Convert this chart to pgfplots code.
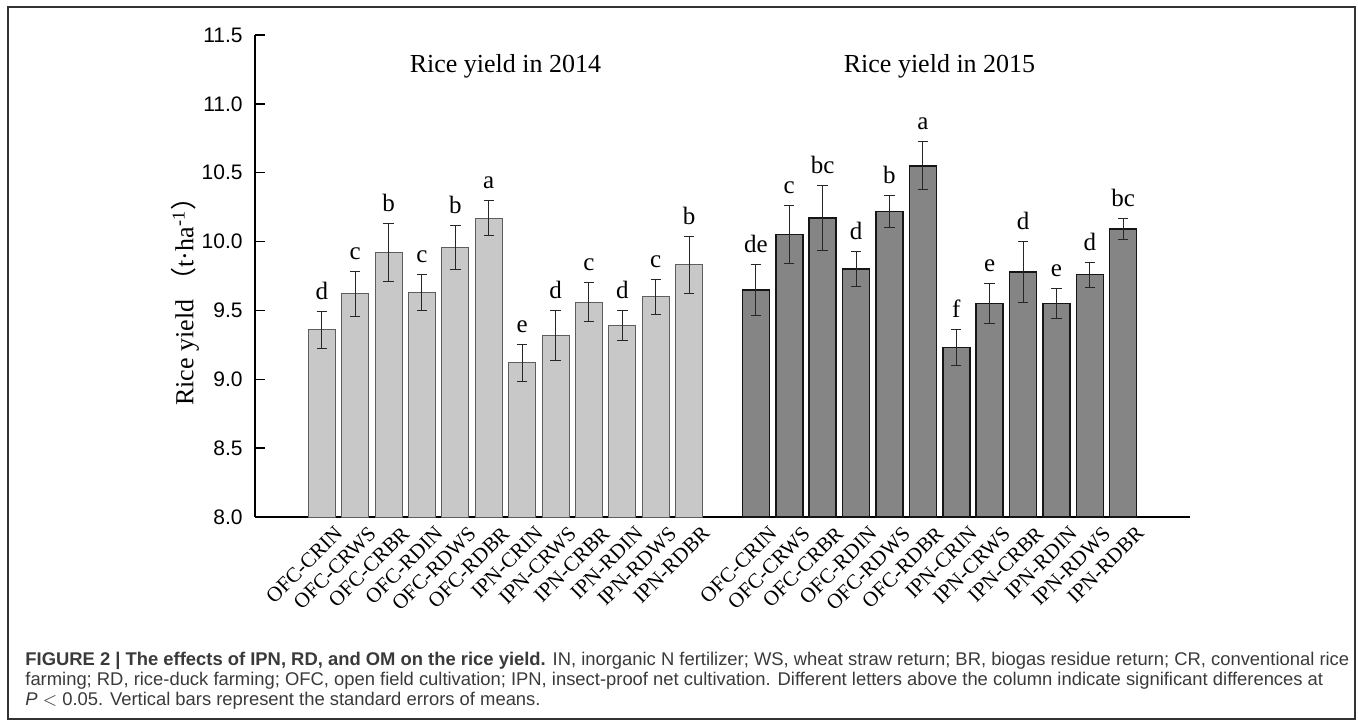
\documentclass[border=0pt]{standalone}
\usepackage{fontspec}
\setmainfont{Liberation Serif}
\setsansfont{Liberation Sans}
\newfontfamily\cjk{Noto Sans CJK SC}
\usepackage{pgfplots}
\usepackage{pgfplotstable}
\pgfplotsset{compat=1.18}

\definecolor{lightbar}{HTML}{C8C8C8}
\definecolor{lightedge}{HTML}{5E5E5E}
\definecolor{darkbar}{HTML}{858585}
\definecolor{darkedge}{HTML}{151515}
\definecolor{framecol}{HTML}{333333}
\definecolor{captext}{HTML}{3A3A3A}

% x  mean  standard error  letter
\pgfplotstableread{
x  y     se     lab
0  9.36  0.135  d
1  9.62  0.165  c
2  9.92  0.210  b
3  9.63  0.130  c
4  9.96  0.160  b
5  10.17 0.125  a
6  9.12  0.133  e
7  9.32  0.180  d
8  9.56  0.140  c
9  9.39  0.110  d
10 9.60  0.128  c
11 9.83  0.205  b
}\yieldA

\pgfplotstableread{
x  y     se     lab
13 9.65  0.184  de
14 10.05 0.210  c
15 10.17 0.235  bc
16 9.80  0.127  d
17 10.22 0.116  b
18 10.55 0.174  a
19 9.23  0.130  f
20 9.55  0.147  e
21 9.78  0.224  d
22 9.55  0.110  e
23 9.76  0.090  d
24 10.09 0.075  bc
}\yieldB

\begin{document}
\begin{tikzpicture}
\useasboundingbox (0,0) rectangle (679pt,362pt);
\fill[white] (0,0) rectangle (679pt,362pt);
\draw[framecol, line width=0.75pt] (4pt,2.5pt) rectangle (677.5pt,358.5pt);

\begin{axis}[
  at={(127.5pt,103.5pt)}, anchor=south west,
  scale only axis, width=467.5pt, height=241pt,
  xmin=-2, xmax=26, ymin=8, ymax=11.5,
  axis x line*=bottom, axis y line*=left,
  axis line style={-, line width=0.7pt, black},
  clip mode=individual,
  ytick={8,8.5,...,11.5},
  yticklabel style={/pgf/number format/fixed, /pgf/number format/fixed zerofill,
                    /pgf/number format/precision=1, /pgf/number format/assume math mode=true,
                    font=\sffamily\fontsize{10.5}{12}\selectfont, inner sep=0pt, xshift=-6pt},
  tick align=inside, major tick length=5pt,
  ytick style={line width=0.7pt, black},
  xtick={0,1,2,3,4,5,6,7,8,9,10,11,13,14,15,16,17,18,19,20,21,22,23,24},
  xticklabels={OFC-CRIN,OFC-CRWS,OFC-CRBR,OFC-RDIN,OFC-RDWS,OFC-RDBR,IPN-CRIN,IPN-CRWS,IPN-CRBR,IPN-RDIN,IPN-RDWS,IPN-RDBR,
               OFC-CRIN,OFC-CRWS,OFC-CRBR,OFC-RDIN,OFC-RDWS,OFC-RDBR,IPN-CRIN,IPN-CRWS,IPN-CRBR,IPN-RDIN,IPN-RDWS,IPN-RDBR},
  xtick style={draw=none},
  xticklabel style={rotate=45, anchor=north east, inner sep=0pt, xshift=1.5pt, yshift=-7pt,
                    font=\fontsize{10.5}{12}\selectfont},
  ylabel={Rice yield\ {\cjk （}t·ha\textsuperscript{-1}{\cjk ）}},
  ylabel style={at={(rel axis cs:-0.0749,0.46)}, anchor=center, rotate=0,
                font=\fontsize{13}{15}\selectfont},
  error bars/error bar style={line width=0.5pt, black!85},
  error bars/error mark options={rotate=90, mark size=2.6pt, line width=0.5pt, black!85},
  nodes near coords style={font=\fontsize{12.5}{14}\selectfont, anchor=base, inner sep=0pt, yshift=6pt},
]
% 2014 columns
\addplot[ybar, bar width=13.5pt, bar shift=0pt, fill=lightbar, draw=lightedge, line width=0.5pt,
         error bars/.cd, y dir=both, y explicit]
  table[x=x, y=y, y error=se] {\yieldA};
% 2015 columns
\addplot[ybar, bar width=13.5pt, bar shift=0pt, fill=darkbar, draw=darkedge, line width=0.75pt,
         error bars/.cd, y dir=both, y explicit]
  table[x=x, y=y, y error=se] {\yieldB};
% significance letters above the error bars
\addplot[draw=none, mark=none, nodes near coords, point meta=explicit symbolic]
  table[x=x, y expr=\thisrow{y}+\thisrow{se}, meta=lab] {\yieldA};
\addplot[draw=none, mark=none, nodes near coords, point meta=explicit symbolic]
  table[x=x, y expr=\thisrow{y}+\thisrow{se}, meta=lab] {\yieldB};

\node[anchor=base, font=\fontsize{13}{15}\selectfont] at (axis cs:5.5,11.231) {Rice yield in 2014};
\node[anchor=base, font=\fontsize{13}{15}\selectfont] at (axis cs:18.5,11.231) {Rice yield in 2015};
\end{axis}

\begin{scope}[every node/.style={anchor=base west, inner sep=0pt, text=captext,
                                 font=\sffamily\fontsize{9.2}{10}\selectfont}]
\node at (12.5pt,29.5pt) {\textbf{FIGURE 2 | The effects of IPN, RD, and OM on the rice yield.} IN, inorganic N fertilizer; WS, wheat straw return; BR, biogas residue return; CR, conventional rice};
\node at (12.5pt,19.5pt) {farming; RD, rice-duck farming; OFC, open field cultivation; IPN, insect-proof net cultivation. Different letters above the column indicate significant differences at};
\node at (12.5pt,9.5pt) {\textit{P} $<$ 0.05. Vertical bars represent the standard errors of means.};
\end{scope}
\end{tikzpicture}
\end{document}
